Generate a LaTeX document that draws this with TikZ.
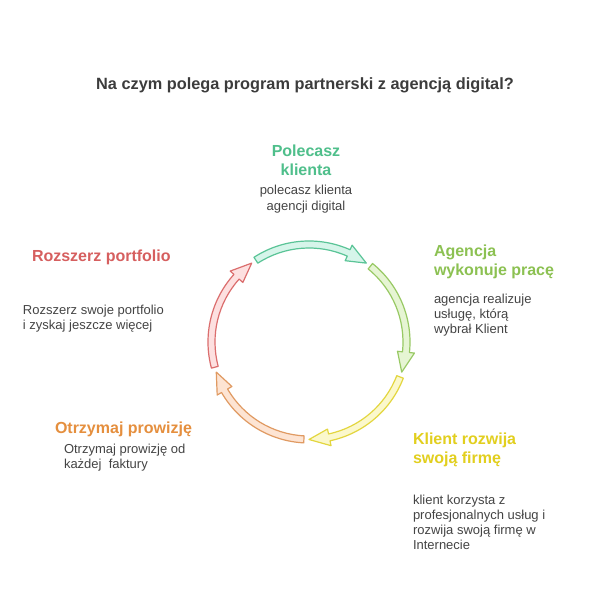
\documentclass[tikz,border=0pt]{standalone}
\usepackage{fontspec}
\setmainfont{Liberation Sans}
\usetikzlibrary{positioning}
\definecolor{ttl}{HTML}{3C3C3C}
\definecolor{txt}{HTML}{444444}
\definecolor{hteal}{HTML}{4FBF8B}
\definecolor{hgreen}{HTML}{8CC152}
\definecolor{hyellow}{HTML}{E2CF1E}
\definecolor{horange}{HTML}{E58F3E}
\definecolor{hred}{HTML}{D65F5F}
\definecolor{ateal}{HTML}{5AC497}
\definecolor{fteal}{HTML}{D6F5EA}
\definecolor{agreen}{HTML}{98C964}
\definecolor{fgreen}{HTML}{E6F5D3}
\definecolor{ayellow}{HTML}{E3D63F}
\definecolor{fyellow}{HTML}{FBF8CC}
\definecolor{aorange}{HTML}{E09A62}
\definecolor{forange}{HTML}{FDE4D3}
\definecolor{ared}{HTML}{DB6E6E}
\definecolor{fred}{HTML}{FDE0E0}
\newcommand{\cycarrow}[4]{%
  \draw[line width=1.2pt,draw=#3,fill=#4,line join=round,shift={(309,272)}]
    (#1:101) arc[start angle=#1,end angle={#2+12},radius=101]
    -- ({#2+12}:106) -- (#2:97.5) -- ({#2+12}:89)
    -- ({#2+12}:94) arc[start angle={#2+12},end angle=#1,radius=94] -- cycle;}

\begin{document}
\begin{tikzpicture}[x=1pt,y=1pt,every node/.style={inner sep=0pt,outer sep=0pt},
  head/.style={font=\fontsize{16}{19}\selectfont\bfseries,align=left},
  body/.style={font=\fontsize{13}{15}\selectfont,text=txt,align=left}]
  \useasboundingbox[fill=white] (0,0) rectangle (600,614);
  % title
  \node[font=\fontsize{16.3}{20}\selectfont\bfseries,text=ttl,anchor=north] (title) at (305,536) {Na czym polega program partnerski z agencją digital?};
  % cycle
  \cycarrow{123}{54}{ateal}{fteal}
  \cycarrow{51}{-18}{agreen}{fgreen}
  \cycarrow{-21}{-90}{ayellow}{fyellow}
  \cycarrow{-93}{-162}{aorange}{forange}
  \cycarrow{-165}{-234}{ared}{fred}
  % steps
  \node[head,text=hteal,align=center,anchor=north] (pol) at (306,469) {Polecasz\\klienta};
  \node[body,align=center,below=9pt of pol,font=\fontsize{13}{16.5}\selectfont] (polb) {polecasz klienta\\agencji digital};
  \node[head,text=hgreen,anchor=north west] (age) at (434,369) {Agencja\\wykonuje pracę};
  \node[body,below right=15pt and 0pt of age.south west] (ageb) {agencja realizuje\\usługę, którą\\wybrał Klient};
  \node[head,text=hyellow,anchor=north west] (kli) at (413,181) {Klient rozwija\\swoją firmę};
  \node[body,below right=28pt and 0pt of kli.south west] (klib) {klient korzysta z\\profesjonalnych usług i\\rozwija swoją firmę w\\Internecie};
  \node[head,text=horange,anchor=north west] (otr) at (55,192) {Otrzymaj prowizję};
  \node[body,below right=7pt and 9pt of otr.south west] (otrb) {Otrzymaj prowizję od\\każdej~ faktury};
  \node[head,text=hred,anchor=north west] (roz) at (32,364) {Rozszerz portfolio};
  \node[body,below right=40pt and -9pt of roz.south west] (rozb) {Rozszerz swoje portfolio\\i zyskaj jeszcze więcej};
\end{tikzpicture}
\end{document}
